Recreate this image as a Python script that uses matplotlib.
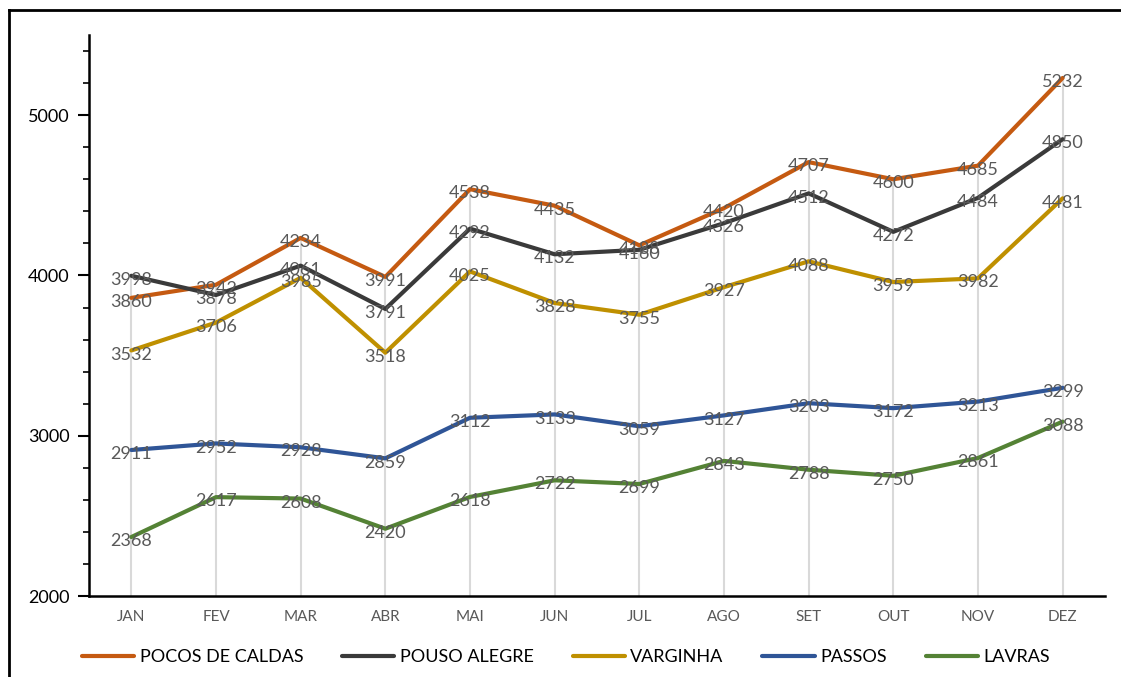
import numpy as np
import matplotlib.pyplot as plt
from matplotlib.lines import Line2D

plt.rcParams["font.family"] = ["Lato", "DejaVu Sans"]

months = ["JAN", "FEV", "MAR", "ABR", "MAI", "JUN", "JUL", "AGO", "SET", "OUT", "NOV", "DEZ"]

pocos = [3860, 3942, 4234, 3991, 4538, 4435, 4188, 4420, 4707, 4600, 4685, 5232]
pouso = [3998, 3878, 4061, 3791, 4292, 4132, 4160, 4326, 4512, 4272, 4484, 4850]
varginha = [3532, 3706, 3985, 3518, 4025, 3828, 3755, 3927, 4088, 3959, 3982, 4481]
passos = [2911, 2952, 2928, 2859, 3112, 3133, 3059, 3127, 3203, 3172, 3213, 3299]
lavras = [2368, 2617, 2608, 2420, 2618, 2722, 2699, 2843, 2788, 2750, 2861, 3088]

series = [
    ("POCOS DE CALDAS", pocos, "#C55A11"),
    ("POUSO ALEGRE", pouso, "#3A3A3A"),
    ("VARGINHA", varginha, "#BF9000"),
    ("PASSOS", passos, "#2F5597"),
    ("LAVRAS", lavras, "#548235"),
]

fig = plt.figure(figsize=(11.21, 6.77), dpi=100)
ax = fig.add_axes([0.0794, 0.1196, 0.9063, 0.8287])

x = np.arange(len(months))

# drop lines up to the highest value of each month
top = np.max([s[1] for s in series], axis=0)
ax.vlines(x, 2000, top, color="#D9D9D9", lw=1.5, zorder=1)

for name, vals, color in series:
    ax.plot(x, vals, color=color, lw=3, label=name, zorder=3, solid_capstyle="round")
    for xi, v in zip(x, vals):
        ax.annotate(str(v), (xi, v), xytext=(0, -3), textcoords="offset points",
                    ha="center", va="center", fontsize=13, color="#595959", zorder=4)

ax.set_xlim(-0.5, 11.5)
ax.set_ylim(2000, 5500)
ax.set_xticks(x)
ax.set_xticklabels(months, color="#595959", fontsize=11)
ax.set_yticks([2000, 3000, 4000, 5000])
ax.set_yticks(np.arange(2200, 5500, 200), minor=True)
ax.tick_params(axis="x", length=0, pad=10)
ax.tick_params(axis="y", which="major", length=8, width=1.5, labelsize=13, pad=6)
ax.tick_params(axis="y", which="minor", length=4, width=1.2)

for side in ["top", "right"]:
    ax.spines[side].set_visible(False)
ax.spines["left"].set_linewidth(1.8)
ax.spines["bottom"].set_linewidth(1.8)

fig.legend(loc="center left", bbox_to_anchor=(0.073, 0.0295), ncol=5, frameon=False,
           fontsize=13, handlelength=2.9, handletextpad=0.3, columnspacing=2.15,
           borderpad=0, borderaxespad=0)

# outer chart border (left and top only visible)
fig.add_artist(Line2D([0.0076, 0.0076], [0, 0.985], transform=fig.transFigure, color="black", lw=2))
fig.add_artist(Line2D([0.0076, 1.0], [0.985, 0.985], transform=fig.transFigure, color="black", lw=2))

fig.savefig("out.png", dpi=100)
